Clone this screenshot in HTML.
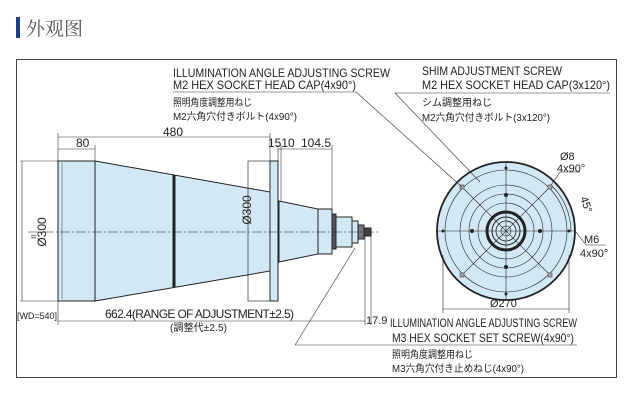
<!DOCTYPE html>
<html><head><meta charset="utf-8"><style>
html,body{margin:0;padding:0;background:#fff;}
svg{display:block;}
text{font-family:"Liberation Sans","Noto Sans CJK JP",sans-serif;fill:#222;}
</style></head><body>
<svg width="643" height="400" viewBox="0 0 643 400" xmlns="http://www.w3.org/2000/svg">
<rect x="16" y="17" width="4" height="21" fill="#1f3f80"/>
<text x="26" y="35" font-size="19" style="font-family:'Noto Serif CJK SC',serif;fill:#555">外观图</text>
<rect x="16.5" y="59.5" width="600" height="318" fill="none" stroke="#444" stroke-width="1"/>

<!-- left view -->
<g stroke="#222" stroke-width="1" fill="#d3e8f5">
<rect x="58" y="161" width="37" height="140"/>
<polygon points="95,161 270,192 270,271 95,301"/>
<rect x="270" y="161" width="8" height="140"/>
<polygon points="279,201 318,209 318,254 279,262"/>
<rect x="318" y="209" width="14" height="45"/>
<rect x="332" y="214" width="4" height="35" fill="#555"/>
<rect x="336" y="217" width="16" height="30"/>
<rect x="352" y="221" width="6" height="22"/>
<rect x="358" y="225" width="6" height="14" fill="#777"/>
<rect x="364" y="228" width="7" height="8" fill="#444"/>
</g>
<line x1="62" y1="163" x2="62" y2="299" stroke="#555" stroke-width="0.6"/>
<line x1="174" y1="175" x2="174" y2="287" stroke="#222" stroke-width="3"/>
<rect x="248" y="161" width="22" height="140" fill="none" stroke="#333" stroke-width="0.7"/>
<line x1="28" y1="232" x2="380" y2="232" stroke="#222" stroke-width="0.6" stroke-dasharray="10,2,2,2"/>
<!-- dims -->
<g stroke="#333" stroke-width="0.6" fill="none">
<line x1="58" y1="137" x2="270" y2="137"/>
<line x1="58" y1="133" x2="58" y2="161"/>
<line x1="270" y1="133" x2="270" y2="161"/>
<line x1="58" y1="149" x2="95" y2="149"/>
<line x1="95" y1="145" x2="95" y2="161"/>
<line x1="278" y1="145" x2="278" y2="161"/>
<line x1="281" y1="145" x2="281" y2="201"/>
<line x1="332" y1="145" x2="332" y2="209"/>
<line x1="278" y1="149" x2="332" y2="149"/>
<line x1="22" y1="161" x2="22" y2="301"/>
<line x1="20" y1="161" x2="58" y2="161"/>
<line x1="20" y1="301" x2="58" y2="301"/>
<line x1="58" y1="301" x2="58" y2="325"/>
<line x1="58" y1="321" x2="365" y2="321"/>
<line x1="365" y1="236" x2="365" y2="325"/>
<line x1="371" y1="236" x2="371" y2="325"/>
</g>
<text x="31" y="240" font-size="10" fill="#333">≈</text>
<text x="76" y="147" font-size="12">80</text>
<text x="163" y="136" font-size="12">480</text>
<text x="268" y="147" font-size="12">1510</text>
<text x="301" y="147" font-size="12">104.5</text>
<text transform="translate(46,232) rotate(-90)" font-size="12" text-anchor="middle">Ø300</text>
<text transform="translate(251,210) rotate(-90)" font-size="12" text-anchor="middle">Ø300</text>
<text x="17" y="319" font-size="9" textLength="40">[WD=540]</text>
<text x="105" y="318" font-size="12" textLength="189">662.4(RANGE OF ADJUSTMENT±2.5)</text>
<text x="170" y="331" font-size="10" textLength="57">(調整代±2.5)</text>
<text x="366" y="324" font-size="11">17.9</text>

<!-- right view -->
<g fill="none" stroke="#222">
<circle cx="506" cy="231" r="69" fill="#d3e8f5" stroke-width="1.8"/>
<circle cx="506" cy="231" r="61" stroke-width="0.6"/>
<circle cx="506" cy="231" r="46" stroke-width="0.6"/>
<circle cx="506" cy="231" r="37" stroke-width="0.6"/>
<circle cx="506" cy="231" r="28" stroke-width="0.6"/>
<circle cx="506" cy="231" r="19" stroke-width="3"/>
<circle cx="506" cy="231" r="14" stroke-width="1"/>
<circle cx="506" cy="231" r="10" stroke-width="0.8"/>
<circle cx="506" cy="231" r="5" stroke-width="0.6"/>
<line x1="437" y1="231" x2="575" y2="231" stroke-width="0.6"/>
<line x1="506" y1="162" x2="506" y2="300" stroke-width="0.6"/>
<line x1="463" y1="188" x2="549" y2="274" stroke-width="0.6"/>
<line x1="549" y1="188" x2="463" y2="274" stroke-width="0.6"/>
<line x1="443" y1="255" x2="443" y2="313" stroke-width="0.6"/>
<line x1="569" y1="255" x2="569" y2="313" stroke-width="0.6"/>
<line x1="443" y1="309" x2="569" y2="309" stroke-width="0.6"/>
<path d="M551 185 A65 65 0 0 1 571 231" stroke-width="0.6"/>
<polyline points="549,188 560,172 580,172" stroke-width="0.6"/>
<polyline points="575,231 586,245 606,245" stroke-width="0.6"/>
</g>
<g fill="#222">
<circle cx="506" cy="195" r="2"/><circle cx="506" cy="267" r="2"/>
<circle cx="472" cy="231" r="2"/><circle cx="540" cy="231" r="2"/>
<circle cx="506" cy="168" r="1.5"/><circle cx="506" cy="294" r="1.5"/>
<circle cx="443" cy="231" r="1.5"/><circle cx="569" cy="231" r="1.5"/>
</g>
<g fill="#aaa" stroke="#444" stroke-width="0.6">
<rect x="460" y="185" width="4" height="4"/><rect x="548" y="185" width="4" height="4"/>
<rect x="460" y="273" width="4" height="4"/><rect x="548" y="273" width="4" height="4"/>
</g>
<text x="560" y="160" font-size="11">Ø8</text>
<text x="557" y="172" font-size="11">4x90°</text>
<text transform="translate(580,198) rotate(70)" font-size="11">45°</text>
<text x="584" y="243" font-size="11">M6</text>
<text x="580" y="257" font-size="11">4x90°</text>
<text x="490" y="307" font-size="11">Ø270</text>

<!-- labels & leaders -->
<g stroke="#333" stroke-width="0.6" fill="none">
<line x1="173" y1="92" x2="356" y2="92"/>
<line x1="356" y1="92" x2="462" y2="187"/>
<line x1="395" y1="93" x2="610" y2="93"/>
<line x1="395" y1="93" x2="480" y2="182"/>
<line x1="295" y1="345" x2="577" y2="345"/>
<line x1="295" y1="345" x2="355" y2="248"/>
</g>
<text x="173" y="77" font-size="12" textLength="217" lengthAdjust="spacingAndGlyphs">ILLUMINATION ANGLE ADJUSTING SCREW</text>
<text x="173" y="89" font-size="12" textLength="183" lengthAdjust="spacingAndGlyphs">M2 HEX SOCKET HEAD CAP(4x90°)</text>
<text x="173" y="106" font-size="10" textLength="79" lengthAdjust="spacingAndGlyphs">照明角度調整用ねじ</text>
<text x="173" y="120" font-size="10" textLength="124" lengthAdjust="spacingAndGlyphs">M2六角穴付きボルト(4x90°)</text>
<text x="422" y="75" font-size="12" textLength="140" lengthAdjust="spacingAndGlyphs">SHIM ADJUSTMENT SCREW</text>
<text x="422" y="89" font-size="12" textLength="188" lengthAdjust="spacingAndGlyphs">M2 HEX SOCKET HEAD CAP(3x120°)</text>
<text x="422" y="106" font-size="10" textLength="70" lengthAdjust="spacingAndGlyphs">シム調整用ねじ</text>
<text x="422" y="121" font-size="10" textLength="128" lengthAdjust="spacingAndGlyphs">M2六角穴付きボルト(3x120°)</text>
<text x="390" y="327" font-size="12" textLength="187" lengthAdjust="spacingAndGlyphs">ILLUMINATION ANGLE ADJUSTING SCREW</text>
<text x="392" y="342" font-size="12" textLength="182" lengthAdjust="spacingAndGlyphs">M3 HEX SOCKET SET SCREW(4x90°)</text>
<text x="392" y="358" font-size="10" textLength="81" lengthAdjust="spacingAndGlyphs">照明角度調整用ねじ</text>
<text x="392" y="372" font-size="10" textLength="132" lengthAdjust="spacingAndGlyphs">M3六角穴付き止めねじ(4x90°)</text>
</svg>
</body></html>
